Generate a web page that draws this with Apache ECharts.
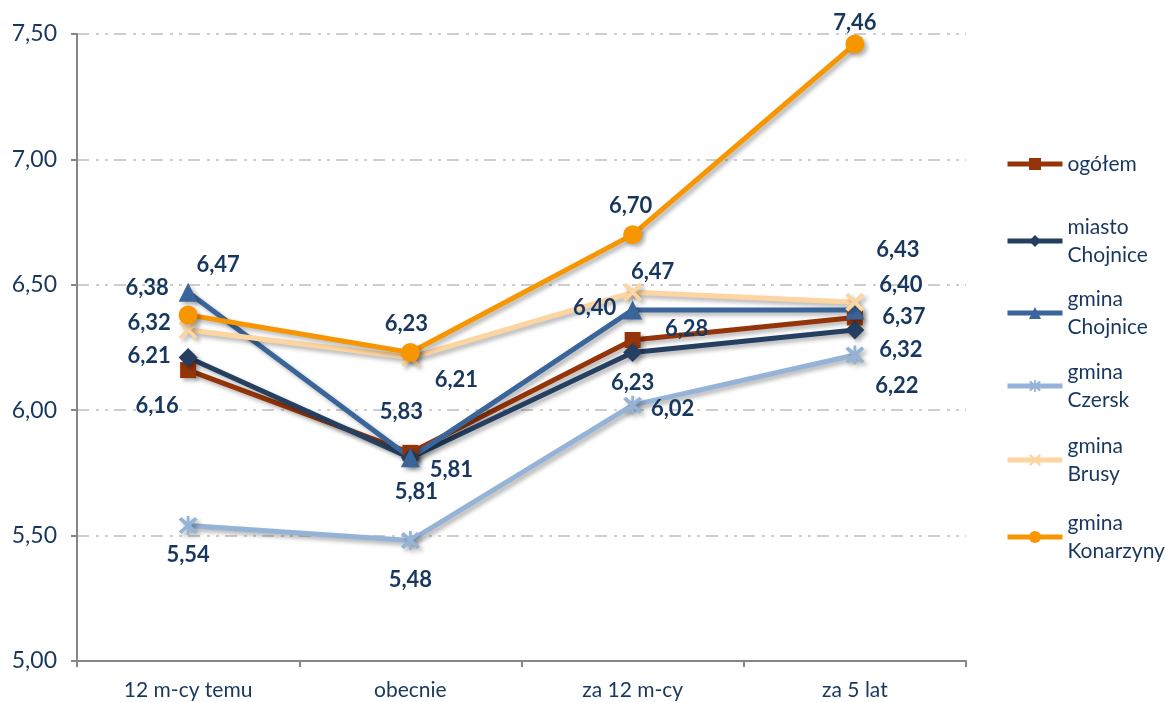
<!DOCTYPE html>
<html>
<head>
<meta charset="utf-8">
<script src="https://cdn.jsdelivr.net/npm/echarts@6/dist/echarts.min.js"></script>
<style>
  html, body { margin: 0; padding: 0; background: #fff; }
  #chart { width: 1166px; height: 702px; }
</style>
</head>
<body>
<div id="chart"></div>
<script>
// dane
const categories = ['12 m-cy temu', 'obecnie', 'za 12 m-cy', 'za 5 lat']
const ogolem = [6.16, 5.83, 6.28, 6.37]
const miastoChojnice = [6.21, 5.81, 6.23, 6.32]
const gminaChojnice = [6.47, 5.81, 6.40, 6.40]
const gminaCzersk = [5.54, 5.48, 6.02, 6.22]
const gminaBrusy = [6.32, 6.21, 6.47, 6.43]
const gminaKonarzyny = [6.38, 6.23, 6.70, 7.46]
const yMin = 5
const yMax = 7.5
const yStep = 0.5

// przesunięcia etykiet względem punktu (px)
const offsOgolem = [[-31, 36], [-9, -41], [54, -11], [49, 0]]
const offsMiasto = [[-39, -2], [6, 34], [0, 30], [46, 20]]
const offsGminaCh = [[30, -27], [41, 12], [-38, -2], [46, -25]]
const offsCzersk = [[0, 29], [0, 39], [40, 4], [42, 31]]
const offsBrusy = [[-39, -7], [46, 22], [20, -20], [43, -52]]
const offsKonarzyny = [[-41, -27], [-4, -29], [-2, -29], [0, -21]]

const FONT = 'Lato'
const TXT = '#17375E'
const asterisk = 'path://M8.8,0.5L11.2,0.5L11.2,19.5L8.8,19.5Z M1.5,4L4,1.5L10,7.5L16,1.5L18.5,4L12.5,10L18.5,16L16,18.5L10,12.5L4,18.5L1.5,16L7.5,10Z'
const cross = 'path://M1.5,4L4,1.5L10,7.5L16,1.5L18.5,4L12.5,10L18.5,16L16,18.5L10,12.5L4,18.5L1.5,16L7.5,10Z'

function fmt (v) {
  return v.toFixed(2).replace('.', ',')
}

function makeSeries (name, values, offs, color, symbol, size) {
  return {
    name: name,
    type: 'line',
    data: values.map((v, i) => ({ value: v, label: { offset: offs[i] } })),
    symbol: symbol,
    symbolSize: size,
    showAllSymbol: true,
    lineStyle: {
      width: 5,
      color: color,
      shadowColor: 'rgba(0,0,0,0.3)',
      shadowBlur: 4,
      shadowOffsetX: 3,
      shadowOffsetY: 3
    },
    itemStyle: {
      color: color,
      shadowColor: 'rgba(0,0,0,0.3)',
      shadowBlur: 4,
      shadowOffsetX: 3,
      shadowOffsetY: 3
    },
    label: {
      show: true,
      position: 'inside',
      formatter: p => fmt(p.value),
      fontFamily: FONT,
      fontWeight: 'bold',
      fontSize: 22,
      color: TXT
    },
    emphasis: { disabled: true }
  }
}

const L = 28
const legendRows = [
  { name: 'ogółem', y: 164, lines: 1 },
  { name: 'miasto\nChojnice', y: 241, lines: 2 },
  { name: 'gmina\nChojnice', y: 313, lines: 2 },
  { name: 'gmina\nCzersk', y: 386, lines: 2 },
  { name: 'gmina\nBrusy', y: 460, lines: 2 },
  { name: 'gmina\nKonarzyny', y: 537, lines: 2 }
]

const legends = legendRows.map(r => ({
  left: 1005,
  top: r.lines === 2 ? r.y - 1.5 * L : r.y - 0.5 * L,
  orient: 'vertical',
  padding: 0,
  itemWidth: 55,
  itemHeight: 15,
  selectedMode: false,
  lineStyle: { width: 5 },
  data: [{
    name: r.name,
    textStyle: {
      padding: r.lines === 2 ? [L, 0, 0, 0] : 0
    }
  }],
  textStyle: {
    fontFamily: FONT,
    fontSize: 21,
    lineHeight: L,
    color: TXT
  }
}))

const chart = echarts.init(document.getElementById('chart'))
const option = {
  backgroundColor: '#fff',
  animation: false,
  legend: legends,
  grid: {
    left: 77,
    right: 200,
    top: 34,
    bottom: 41
  },
  xAxis: {
    type: 'category',
    data: categories,
    boundaryGap: true,
    axisLine: { lineStyle: { color: '#868686', width: 2 } },
    axisTick: { show: true, length: 6, lineStyle: { color: '#868686', width: 2 } },
    axisLabel: {
      fontFamily: FONT,
      fontSize: 21,
      color: TXT,
      margin: 19
    }
  },
  yAxis: {
    type: 'value',
    min: yMin,
    max: yMax,
    interval: yStep,
    axisLine: { show: true, lineStyle: { color: '#868686', width: 2 } },
    axisTick: { show: true, length: 6, lineStyle: { color: '#868686', width: 2 } },
    axisLabel: {
      fontFamily: FONT,
      fontSize: 23,
      color: TXT,
      margin: 20,
      formatter: v => fmt(v)
    },
    splitLine: {
      lineStyle: {
        color: '#BFBFBF',
        width: 1.5,
        type: [12, 7, 3, 6, 3, 6]
      }
    }
  },
  series: [
    makeSeries('ogółem', ogolem, offsOgolem, '#953409', 'rect', 16),
    makeSeries('miasto\nChojnice', miastoChojnice, offsMiasto, '#243F60', 'diamond', 19),
    makeSeries('gmina\nChojnice', gminaChojnice, offsGminaCh, '#3A659B', 'triangle', 19),
    makeSeries('gmina\nCzersk', gminaCzersk, offsCzersk, '#95B3D7', asterisk, 19),
    makeSeries('gmina\nBrusy', gminaBrusy, offsBrusy, '#FCD5A0', cross, 19),
    makeSeries('gmina\nKonarzyny', gminaKonarzyny, offsKonarzyny, '#F79600', 'circle', 19)
  ]
}
option && chart.setOption(option)
</script>
</body>
</html>
